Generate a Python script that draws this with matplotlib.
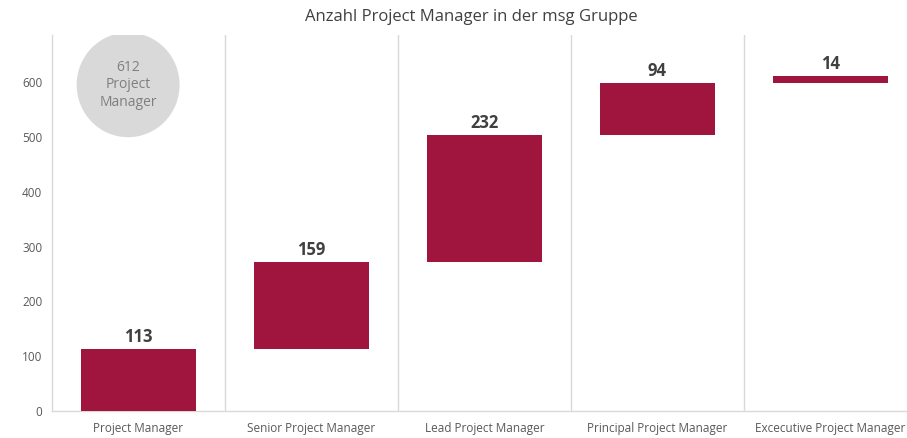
import matplotlib
matplotlib.use("Agg")
import matplotlib.pyplot as plt
from matplotlib.patches import Ellipse
import numpy as np

plt.rcParams['font.family'] = ['Open Sans', 'DejaVu Sans']

categories = ["Project Manager", "Senior Project Manager", "Lead Project Manager",
              "Principal Project Manager", "Excecutive Project Manager"]
values = [113, 159, 232, 94, 14]
title = "Anzahl Project Manager in der msg Gruppe"
yticks = [0, 100, 200, 300, 400, 500, 600]

bar_color = "#A0153E"
grid_color = "#D9D9D9"

W, H = 907, 438
fig = plt.figure(figsize=(W / 100, H / 100), dpi=100)
ax_left, ax_right = 52, 917
ax_bottom, ax_top = 411, 35
ax = fig.add_axes([ax_left / W, (H - ax_bottom) / H,
                   (ax_right - ax_left) / W, (ax_bottom - ax_top) / H])

x = np.arange(len(categories))
bases = np.concatenate([[0], np.cumsum(values)[:-1]])
ax.bar(x, values, bottom=bases, width=0.665, color=bar_color, zorder=3)

for xi, b, v in zip(x, bases, values):
    ax.text(xi, b + v + 5, str(v), ha="center", va="bottom",
            fontsize=12, fontweight="bold", color="#404040", zorder=4)

ax.set_xlim(-0.5, len(categories) - 0.5)
ax.set_ylim(0, 686)
ax.set_yticks(yticks)
ax.set_xticks(x)
ax.set_xticklabels(categories)
ax.tick_params(axis="both", length=0, labelsize=8.5, colors="#595959")
ax.tick_params(axis="x", pad=8)
ax.tick_params(axis="y", pad=7)

for xb in np.arange(0.5, len(categories) - 0.5, 1.0):
    ax.axvline(xb, color=grid_color, lw=1, zorder=1)

for side in ["top", "right"]:
    ax.spines[side].set_visible(False)
for side in ["left", "bottom"]:
    ax.spines[side].set_color(grid_color)
    ax.spines[side].set_linewidth(1)

# Total badge
total = int(np.sum(values))
ell = Ellipse((-0.06, 595), width=0.595, height=191, facecolor="#D9D9D9",
              edgecolor="none", zorder=2)
ax.add_patch(ell)
ax.text(-0.06, 595, f"{total}\nProject\nManager", ha="center", va="center",
        fontsize=10, color="#7F7F7F", linespacing=1.2, zorder=3)

fig.text(471 / W, 1 - 17 / H, title, ha="center", va="center",
         fontsize=12, color="#404040")

fig.savefig("out.png", dpi=100)
